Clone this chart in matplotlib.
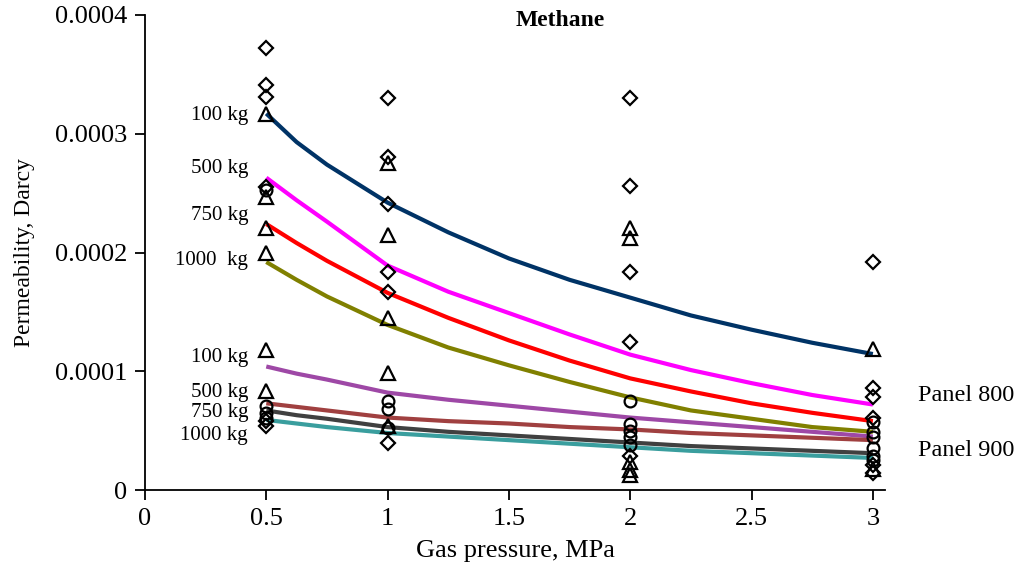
import matplotlib.pyplot as plt
import numpy as np

# pressures where the fitted curves were read (MPa)
x_curve = [0.5, 0.625, 0.75, 1.0, 1.25, 1.5, 1.75, 2.0, 2.25, 2.5, 2.75, 3.0]

# fitted curves, permeability in 1e-4 Darcy
p800_100 = [3.17, 2.93, 2.74, 2.42, 2.17, 1.95, 1.77, 1.62, 1.47, 1.35, 1.24, 1.145]
p800_500 = [2.63, 2.44, 2.26, 1.89, 1.67, 1.49, 1.31, 1.14, 1.01, 0.90, 0.80, 0.72]
p800_750 = [2.24, 2.08, 1.93, 1.66, 1.45, 1.26, 1.09, 0.94, 0.83, 0.73, 0.65, 0.58]
p800_1000 = [1.92, 1.77, 1.63, 1.39, 1.20, 1.05, 0.91, 0.78, 0.67, 0.60, 0.53, 0.49]
p900_100 = [1.04, 0.98, 0.93, 0.82, 0.76, 0.71, 0.66, 0.61, 0.57, 0.53, 0.49, 0.45]
p900_500 = [0.73, 0.70, 0.67, 0.61, 0.58, 0.56, 0.53, 0.51, 0.48, 0.46, 0.44, 0.42]
p900_750 = [0.67, 0.63, 0.60, 0.53, 0.49, 0.46, 0.43, 0.40, 0.37, 0.35, 0.33, 0.31]
p900_1000 = [0.59, 0.56, 0.53, 0.48, 0.45, 0.42, 0.39, 0.36, 0.33, 0.31, 0.29, 0.27]

curves = [p800_100, p800_500, p800_750, p800_1000,
          p900_100, p900_500, p900_750, p900_1000]
curve_colors = ['#003366', '#ff00ff', '#ff0000', '#808000',
                '#9e48a6', '#a04040', '#404040', '#3a9e9e']

# measured points, permeability in 1e-4 Darcy
diamond_x = [0.5, 0.5, 0.5, 0.5, 0.5, 0.5,
             1, 1, 1, 1, 1, 1,
             2, 2, 2, 2, 2,
             3, 3, 3, 3, 3, 3]
diamond_y = [3.72, 3.41, 3.31, 2.55, 0.58, 0.54,
             3.30, 2.80, 2.41, 1.84, 1.67, 0.40,
             3.30, 2.56, 1.84, 1.25, 0.29,
             1.92, 0.86, 0.78, 0.61, 0.21, 0.14]

triangle_x = [0.5, 0.5, 0.5, 0.5, 0.5, 0.5,
              1, 1, 1, 1, 1,
              2, 2, 2, 2, 2,
              3, 3]
triangle_y = [3.17, 2.47, 2.21, 2.00, 1.18, 0.83,
              2.75, 2.15, 1.45, 0.985, 0.54,
              2.21, 2.12, 0.24, 0.17, 0.13,
              1.19, 0.18]

circle_x = [0.5, 0.5, 0.5, 0.5,
            1, 1, 1,
            2, 2, 2, 2, 2,
            3, 3, 3, 3, 3, 3]
circle_y = [2.53, 0.71, 0.65, 0.61,
            0.75, 0.68, 0.52,
            0.75, 0.56, 0.50, 0.45, 0.38,
            0.57, 0.49, 0.45, 0.35, 0.29, 0.25]

label_names = ['100 kg', '500 kg', '750 kg', '1000  kg',
               '100 kg', '500 kg', '750 kg', '1000 kg']
label_y = [3.15, 2.71, 2.31, 1.93, 1.12, 0.82, 0.65, 0.455]

x_ticks = [0, 0.5, 1, 1.5, 2, 2.5, 3]
x_tick_labels = ['0', '0.5', '1', '1.5', '2', '2.5', '3']
y_ticks = [0, 1, 2, 3, 4]
y_tick_labels = ['0', '0.0001', '0.0002', '0.0003', '0.0004']


def plot():
    plt.rcParams['font.family'] = ['Liberation Serif', 'DejaVu Serif']
    fig = plt.figure(figsize=(10.31, 5.79), dpi=100)
    ax = fig.add_axes([0.1406, 0.1537, 0.7178, 0.8204])

    for vals, col in zip(curves, curve_colors):
        ax.plot(x_curve, vals, color=col, lw=3, solid_capstyle='butt', zorder=2)

    mk = dict(color='none', markerfacecolor='none', markeredgecolor='black',
              markeredgewidth=1.6, linestyle='none', zorder=3)
    ax.plot(diamond_x, diamond_y, marker='D', markersize=7.5, **mk)
    ax.plot(triangle_x, triangle_y, marker='^', markersize=9.5, **mk)
    ax.plot(circle_x, circle_y, marker='o', markersize=8.5, **mk)

    for name, yv in zip(label_names, label_y):
        ax.text(0.425, yv, name, ha='right', va='center', fontsize=15)
    ax.text(3.185, 0.80, 'Panel 800', ha='left', va='center', fontsize=17.5,
            clip_on=False)
    ax.text(3.185, 0.33, 'Panel 900', ha='left', va='center', fontsize=17.5,
            clip_on=False)
    ax.text(1.71, 3.95, 'Methane', ha='center', va='center', fontsize=17,
            fontweight='bold')

    ax.set_xlim(0, 3.05)
    ax.set_ylim(0, 4)
    ax.set_xticks(x_ticks)
    ax.set_xticklabels(x_tick_labels)
    ax.set_yticks(y_ticks)
    ax.set_yticklabels(y_tick_labels)
    ax.tick_params(direction='out', length=7, width=1.3, labelsize=19, pad=6)
    for side in ['top', 'right']:
        ax.spines[side].set_visible(False)
    for side in ['left', 'bottom']:
        ax.spines[side].set_linewidth(1.3)

    ax.set_xlabel('Gas pressure, MPa', fontsize=19)
    ax.set_ylabel('Permeability, Darcy', fontsize=17)
    ax.xaxis.set_label_coords(0.5, -0.105)
    ax.yaxis.set_label_coords(-0.148, 0.5)

    fig.savefig('out.png', dpi=100)


if __name__ == '__main__':
    plot()
